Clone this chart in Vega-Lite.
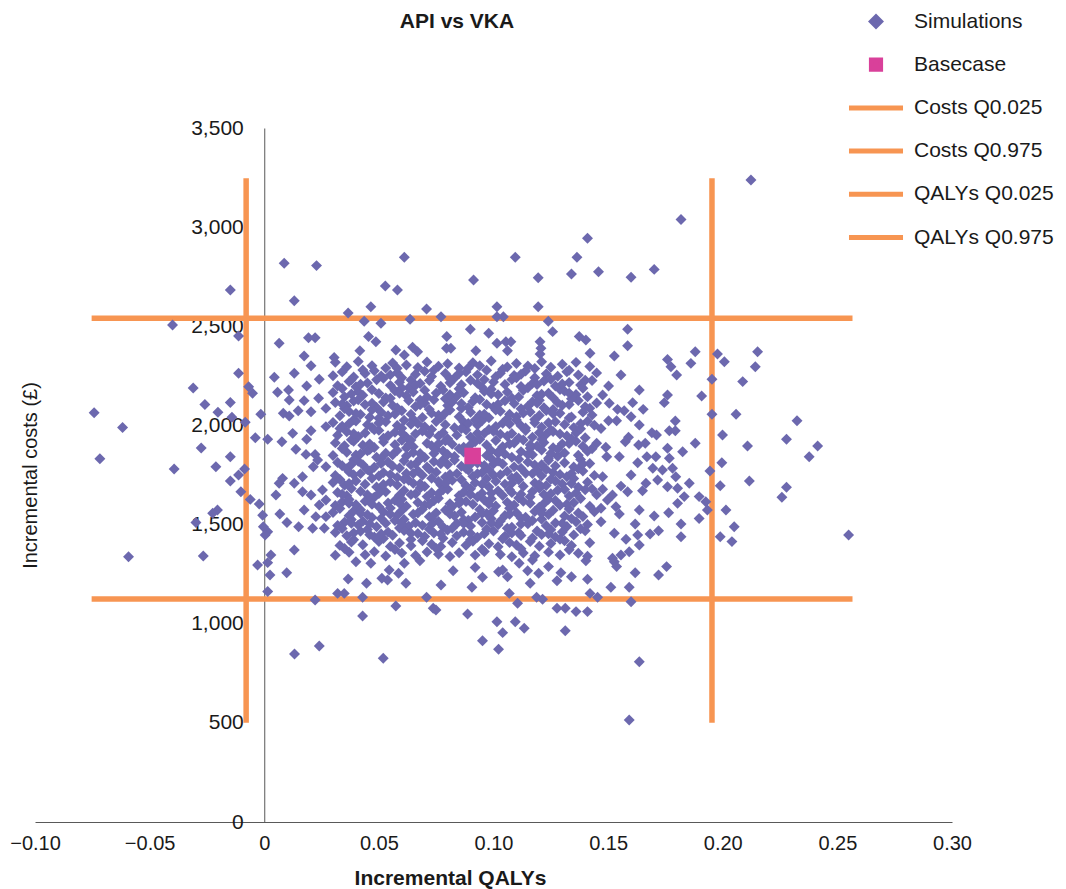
{
"$schema":"https://vega.github.io/schema/vega-lite/v6.json",
"width":917,"height":694,
"autosize":"none",
"padding":{"left":35,"top":128,"right":114,"bottom":67},
"background":"white",
"title":{"text":"API vs VKA","frame":"group","anchor":"middle","dx":-36.5,"offset":-49,"baseline":"alphabetic","fontSize":21,"font":"Liberation Sans","fontWeight":"bold","color":"#1a1a1a"},
"datasets":{
"lines":[
{"series":"Costs Q0.025","x":-0.0753,"y":1125},{"series":"Costs Q0.025","x":0.2566,"y":1125},
{"series":"Costs Q0.975","x":-0.0753,"y":2540},{"series":"Costs Q0.975","x":0.2566,"y":2540},
{"series":"QALYs Q0.025","x":-0.0079,"y":501},{"series":"QALYs Q0.025","x":-0.0079,"y":3246},
{"series":"QALYs Q0.975","x":0.1953,"y":501},{"series":"QALYs Q0.975","x":0.1953,"y":3246}],
"base":[{"x":0.0909,"y":1846}],
"sims":[
{"x":-0.0742,"y":2064},{"x":-0.0618,"y":1990},{"x":-0.0717,"y":1832},{"x":-0.0393,"y":1780},{"x":-0.031,"y":2189},{"x":-0.0259,"y":2106},{"x":-0.0202,"y":2066},{"x":-0.0148,"y":2116},{"x":-0.0112,"y":2263},{"x":-0.0141,"y":2041},{"x":-0.0275,"y":1886},{"x":-0.0148,"y":1842},{"x":-0.0211,"y":1792},{"x":-0.0083,"y":2016},{"x":-0.0068,"y":2195},{"x":-0.0051,"y":2162},{"x":-0.0015,"y":2056},{"x":-0.0039,"y":1938},{"x":0.0015,"y":1930},{"x":-0.0086,"y":1780},{"x":-0.0112,"y":1750},{"x":-0.0148,"y":1720},{"x":-0.0102,"y":1666},{"x":-0.0061,"y":1627},{"x":-0.0022,"y":1604},{"x":-0.0007,"y":1547},{"x":-0.0004,"y":1489},{"x":0.0015,"y":1464},{"x":0.0004,"y":1447},{"x":-0.0204,"y":1573},{"x":-0.0225,"y":1557},{"x":-0.0298,"y":1510},{"x":-0.0592,"y":1338},{"x":-0.0266,"y":1341},{"x":0.0131,"y":1372},{"x":0.0044,"y":2243},{"x":0.0058,"y":2167},{"x":0.0106,"y":2179},{"x":0.0131,"y":2263},{"x":0.0185,"y":2199},{"x":0.0204,"y":2301},{"x":0.024,"y":2233},{"x":0.0109,"y":2128},{"x":0.0174,"y":2125},{"x":0.0237,"y":2137},{"x":0.0083,"y":2061},{"x":0.0109,"y":2048},{"x":0.0148,"y":2074},{"x":0.0204,"y":2069},{"x":0.0269,"y":2086},{"x":0.0124,"y":1960},{"x":0.0185,"y":1930},{"x":0.0204,"y":1973},{"x":0.0077,"y":1918},{"x":0.0269,"y":1994},{"x":0.0138,"y":1880},{"x":0.0182,"y":1854},{"x":0.0222,"y":1854},{"x":0.0233,"y":1826},{"x":0.0214,"y":1792},{"x":0.0269,"y":1792},{"x":0.0167,"y":1741},{"x":0.0131,"y":1708},{"x":0.0065,"y":1708},{"x":0.008,"y":1733},{"x":0.0051,"y":1649},{"x":0.0167,"y":1666},{"x":0.0204,"y":1649},{"x":0.0254,"y":1674},{"x":0.024,"y":1599},{"x":0.0269,"y":1624},{"x":0.0174,"y":1573},{"x":0.0225,"y":1540},{"x":0.0269,"y":1540},{"x":0.0068,"y":1553},{"x":0.0099,"y":1510},{"x":0.015,"y":1489},{"x":0.0211,"y":1481},{"x":0.0262,"y":1481},{"x":0.0029,"y":1347},
{"x":0.0087,"y":2818},{"x":0.0228,"y":2806},{"x":-0.0148,"y":2683},{"x":0.0131,"y":2629},{"x":-0.04,"y":2506},{"x":-0.0112,"y":2451},{"x":0.0065,"y":2414},{"x":0.0193,"y":2442},{"x":0.0222,"y":2442},{"x":0.0174,"y":2350},
{"x":0.0611,"y":2848},{"x":0.0528,"y":2703},{"x":0.0581,"y":2683},{"x":0.0366,"y":2567},{"x":0.0465,"y":2599},{"x":0.0436,"y":2525},{"x":0.0509,"y":2515},{"x":0.0636,"y":2535},{"x":0.0708,"y":2587},{"x":0.0771,"y":2548},{"x":0.0913,"y":2733},{"x":0.1095,"y":2848},{"x":0.1195,"y":2745},{"x":0.1015,"y":2599},{"x":0.1015,"y":2548},{"x":0.1043,"y":2548},{"x":0.1195,"y":2599},{"x":0.1239,"y":2525},{"x":0.1258,"y":2473},{"x":0.134,"y":2764},{"x":0.1364,"y":2848},{"x":0.141,"y":2944},{"x":0.1458,"y":2775},{"x":0.0899,"y":2485},{"x":0.0979,"y":2465},{"x":0.0455,"y":2448},{"x":0.0487,"y":2422},{"x":0.0796,"y":2448},{"x":0.0795,"y":2389},{"x":0.0814,"y":2389},{"x":0.0417,"y":2377},{"x":0.0574,"y":2380},{"x":0.0611,"y":2355},{"x":0.0647,"y":2394},{"x":0.0669,"y":2372},{"x":0.0923,"y":2377},{"x":0.1015,"y":2414},{"x":0.1054,"y":2422},{"x":0.1076,"y":2422},{"x":0.1061,"y":2377},{"x":0.1203,"y":2422},{"x":0.1207,"y":2389},{"x":0.1203,"y":2360},{"x":0.1374,"y":2448},{"x":0.1403,"y":2431},{"x":0.1421,"y":2364},{"x":0.0305,"y":2343},
{"x":0.2123,"y":3238},{"x":0.1818,"y":3039},{"x":0.16,"y":2747},{"x":0.1701,"y":2787},{"x":0.1585,"y":2485},{"x":0.1585,"y":2402},{"x":0.1527,"y":2350},{"x":0.1759,"y":2333},{"x":0.188,"y":2372},{"x":0.1977,"y":2360},{"x":0.2152,"y":2372},
{"x":0.2007,"y":2321},{"x":0.2142,"y":2296},{"x":0.1953,"y":2233},{"x":0.2087,"y":2221},{"x":0.1908,"y":2148},{"x":0.1953,"y":2056},{"x":0.2058,"y":2056},{"x":0.2324,"y":2024},{"x":0.1999,"y":1952},{"x":0.2278,"y":1930},{"x":0.2414,"y":1896},{"x":0.2108,"y":1896},{"x":0.2377,"y":1842},{"x":0.1996,"y":1812},{"x":0.1944,"y":1770},{"x":0.2116,"y":1720},{"x":0.1989,"y":1696},{"x":0.2278,"y":1688},{"x":0.2258,"y":1638},{"x":0.2014,"y":1573},{"x":0.205,"y":1489},{"x":0.1989,"y":1439},{"x":0.204,"y":1414},{"x":0.2549,"y":1447},{"x":0.1861,"y":2313},{"x":0.1774,"y":2296},{"x":0.1799,"y":2254},{"x":0.1556,"y":2254},{"x":0.1502,"y":2199},{"x":0.1476,"y":2153},{"x":0.1636,"y":2179},{"x":0.1759,"y":2153},{"x":0.1745,"y":2115},{"x":0.1607,"y":2115},{"x":0.1505,"y":2112},{"x":0.1541,"y":2081},{"x":0.157,"y":2074},{"x":0.1653,"y":2081},{"x":0.16,"y":2044},{"x":0.1502,"y":2024},{"x":0.1537,"y":2024},{"x":0.1636,"y":2002},{"x":0.1793,"y":2022},{"x":0.1469,"y":1985},{"x":0.1767,"y":1973},{"x":0.1793,"y":1973},{"x":0.1691,"y":1963},{"x":0.1711,"y":1952},{"x":0.1589,"y":1940},{"x":0.1575,"y":1918},{"x":0.188,"y":1910},{"x":0.1633,"y":1901},{"x":0.1662,"y":1910},{"x":0.149,"y":1890},{"x":0.1759,"y":1885},{"x":0.1825,"y":1867},{"x":0.1494,"y":1842},{"x":0.1549,"y":1842},{"x":0.1669,"y":1842},{"x":0.1708,"y":1842},{"x":0.1767,"y":1834},{"x":0.1629,"y":1812},{"x":0.1695,"y":1784},{"x":0.1737,"y":1775},{"x":0.1781,"y":1784},{"x":0.1476,"y":1741},{"x":0.16,"y":1750},{"x":0.1795,"y":1741},{"x":0.1665,"y":1708},{"x":0.1716,"y":1725},{"x":0.1854,"y":1708},{"x":0.1556,"y":1694},{"x":0.1759,"y":1691},{"x":0.1803,"y":1683},{"x":0.1476,"y":1678},{"x":0.165,"y":1671},{"x":0.1519,"y":1649},{"x":0.1585,"y":1666},{"x":0.1832,"y":1641},{"x":0.1897,"y":1641},{"x":0.1497,"y":1624},{"x":0.1534,"y":1590},{"x":0.1803,"y":1607},{"x":0.1926,"y":1615},{"x":0.1469,"y":1582},{"x":0.1636,"y":1573},{"x":0.1933,"y":1573},{"x":0.1549,"y":1553},{"x":0.1701,"y":1543},{"x":0.1764,"y":1560},{"x":0.1897,"y":1531},{"x":0.1469,"y":1514},{"x":0.1618,"y":1503},{"x":0.1818,"y":1503},{"x":0.1527,"y":1456},{"x":0.1578,"y":1426},{"x":0.1629,"y":1447},{"x":0.1683,"y":1452},{"x":0.172,"y":1469},{"x":0.1818,"y":1439},{"x":0.1636,"y":1397},{"x":0.1592,"y":1363},{"x":0.1556,"y":1347},{"x":0.1519,"y":1330},
{"x":-0.0029,"y":1296},{"x":0.0015,"y":1308},{"x":0.0025,"y":1246},{"x":0.0098,"y":1257},{"x":0.0015,"y":1162},{"x":0.0222,"y":1120},{"x":0.024,"y":888},{"x":0.0132,"y":847},
{"x":0.04,"y":1313},{"x":0.0465,"y":1305},{"x":0.0366,"y":1225},{"x":0.0446,"y":1204},{"x":0.032,"y":1153},{"x":0.0349,"y":1153},{"x":0.0429,"y":1133},{"x":0.0429,"y":1039},{"x":0.0513,"y":1229},{"x":0.0545,"y":1271},{"x":0.0538,"y":1220},{"x":0.0586,"y":1254},{"x":0.0611,"y":1305},{"x":0.0618,"y":1204},{"x":0.0574,"y":1089},{"x":0.0519,"y":826},{"x":0.0679,"y":1318},{"x":0.0708,"y":1133},{"x":0.0737,"y":1078},{"x":0.0749,"y":1069},{"x":0.0771,"y":1195},{"x":0.0824,"y":1267},{"x":0.0887,"y":1049},{"x":0.0906,"y":1184},{"x":0.092,"y":1284},{"x":0.0952,"y":1234},{"x":0.0952,"y":914},{"x":0.1015,"y":1010},{"x":0.104,"y":955},{"x":0.1022,"y":871},{"x":0.1022,"y":1262},{"x":0.104,"y":1271},{"x":0.1061,"y":1237},{"x":0.1069,"y":1153},{"x":0.1105,"y":1103},{"x":0.1095,"y":1010},{"x":0.1134,"y":977},{"x":0.1112,"y":1305},{"x":0.1149,"y":1267},{"x":0.117,"y":1321},{"x":0.1197,"y":1254},{"x":0.116,"y":1204},{"x":0.1188,"y":1133},{"x":0.1214,"y":1123},{"x":0.124,"y":1288},{"x":0.1277,"y":1217},{"x":0.1294,"y":1257},{"x":0.1277,"y":1078},{"x":0.1313,"y":1078},{"x":0.1313,"y":965},{"x":0.134,"y":1237},{"x":0.136,"y":1061},{"x":0.1403,"y":1318},{"x":0.141,"y":1224},{"x":0.1421,"y":1153},{"x":0.141,"y":1061},{"x":0.1454,"y":1133},
{"x":0.1527,"y":1313},{"x":0.1537,"y":1288},{"x":0.1618,"y":1257},{"x":0.172,"y":1246},{"x":0.1755,"y":1288},{"x":0.1512,"y":1184},{"x":0.1592,"y":1184},{"x":0.16,"y":1111},{"x":0.1636,"y":808},{"x":0.1592,"y":514},
{"x":0.031,"y":2318},{"x":0.036,"y":2296},{"x":0.041,"y":2322},{"x":0.047,"y":2301},{"x":0.053,"y":2289},{"x":0.056,"y":2315},{"x":0.062,"y":2305},{"x":0.067,"y":2292},{"x":0.071,"y":2320},{"x":0.076,"y":2298},{"x":0.080,"y":2311},{"x":0.085,"y":2290},{"x":0.091,"y":2316},{"x":0.094,"y":2301},{"x":0.099,"y":2325},{"x":0.106,"y":2295},{"x":0.110,"y":2312},{"x":0.115,"y":2300},{"x":0.121,"y":2321},{"x":0.125,"y":2293},{"x":0.130,"y":2309},{"x":0.136,"y":2318},{"x":0.142,"y":2297},
{"x":0.030,"y":2251},{"x":0.034,"y":2270},{"x":0.039,"y":2244},{"x":0.044,"y":2262},{"x":0.048,"y":2276},{"x":0.051,"y":2249},{"x":0.058,"y":2266},{"x":0.060,"y":2240},{"x":0.066,"y":2258},{"x":0.070,"y":2273},{"x":0.073,"y":2247},{"x":0.079,"y":2262},{"x":0.083,"y":2239},{"x":0.088,"y":2270},{"x":0.093,"y":2255},{"x":0.097,"y":2278},{"x":0.101,"y":2246},{"x":0.103,"y":2263},{"x":0.109,"y":2252},{"x":0.114,"y":2275},{"x":0.118,"y":2241},{"x":0.123,"y":2260},{"x":0.128,"y":2248},{"x":0.132,"y":2271},{"x":0.137,"y":2254},{"x":0.145,"y":2265},
{"x":0.032,"y":2200},{"x":0.037,"y":2221},{"x":0.040,"y":2195},{"x":0.045,"y":2214},{"x":0.049,"y":2230},{"x":0.055,"y":2202},{"x":0.059,"y":2218},{"x":0.063,"y":2190},{"x":0.068,"y":2211},{"x":0.072,"y":2226},{"x":0.077,"y":2198},{"x":0.081,"y":2215},{"x":0.086,"y":2205},{"x":0.090,"y":2228},{"x":0.095,"y":2193},{"x":0.100,"y":2219},{"x":0.105,"y":2207},{"x":0.108,"y":2231},{"x":0.112,"y":2196},{"x":0.117,"y":2212},{"x":0.122,"y":2224},{"x":0.127,"y":2199},{"x":0.133,"y":2216},{"x":0.138,"y":2204},{"x":0.143,"y":2227},
{"x":0.030,"y":2166},{"x":0.035,"y":2145},{"x":0.041,"y":2170},{"x":0.043,"y":2152},{"x":0.050,"y":2161},{"x":0.053,"y":2139},{"x":0.057,"y":2175},{"x":0.062,"y":2150},{"x":0.065,"y":2168},{"x":0.071,"y":2144},{"x":0.075,"y":2163},{"x":0.078,"y":2179},{"x":0.084,"y":2147},{"x":0.087,"y":2165},{"x":0.092,"y":2140},{"x":0.096,"y":2172},{"x":0.102,"y":2155},{"x":0.106,"y":2168},{"x":0.111,"y":2143},{"x":0.113,"y":2177},{"x":0.119,"y":2151},{"x":0.124,"y":2162},{"x":0.126,"y":2140},{"x":0.131,"y":2173},{"x":0.136,"y":2156},{"x":0.141,"y":2145},
{"x":0.031,"y":2116},{"x":0.036,"y":2099},{"x":0.039,"y":2123},{"x":0.044,"y":2105},{"x":0.049,"y":2090},{"x":0.052,"y":2118},{"x":0.056,"y":2101},{"x":0.063,"y":2126},{"x":0.066,"y":2095},{"x":0.070,"y":2112},{"x":0.074,"y":2129},{"x":0.080,"y":2100},{"x":0.082,"y":2118},{"x":0.089,"y":2091},{"x":0.091,"y":2121},{"x":0.097,"y":2106},{"x":0.100,"y":2093},{"x":0.105,"y":2124},{"x":0.109,"y":2110},{"x":0.115,"y":2097},{"x":0.117,"y":2120},{"x":0.122,"y":2089},{"x":0.128,"y":2115},{"x":0.130,"y":2102},{"x":0.137,"y":2126},{"x":0.140,"y":2094},{"x":0.145,"y":2113},
{"x":0.033,"y":2049},{"x":0.037,"y":2070},{"x":0.042,"y":2055},{"x":0.046,"y":2041},{"x":0.051,"y":2066},{"x":0.054,"y":2049},{"x":0.060,"y":2074},{"x":0.064,"y":2057},{"x":0.069,"y":2040},{"x":0.073,"y":2062},{"x":0.076,"y":2051},{"x":0.081,"y":2078},{"x":0.085,"y":2044},{"x":0.090,"y":2066},{"x":0.094,"y":2053},{"x":0.098,"y":2039},{"x":0.103,"y":2071},{"x":0.107,"y":2056},{"x":0.110,"y":2044},{"x":0.116,"y":2068},{"x":0.120,"y":2050},{"x":0.123,"y":2075},{"x":0.129,"y":2061},{"x":0.134,"y":2043},{"x":0.139,"y":2067},{"x":0.143,"y":2052},
{"x":0.030,"y":2015},{"x":0.034,"y":1996},{"x":0.040,"y":2022},{"x":0.045,"y":2003},{"x":0.047,"y":1990},{"x":0.053,"y":2018},{"x":0.058,"y":2000},{"x":0.061,"y":2026},{"x":0.067,"y":2009},{"x":0.070,"y":1993},{"x":0.075,"y":2020},{"x":0.079,"y":2004},{"x":0.083,"y":1988},{"x":0.087,"y":2017},{"x":0.093,"y":2002},{"x":0.095,"y":2024},{"x":0.101,"y":1995},{"x":0.104,"y":2011},{"x":0.110,"y":2027},{"x":0.112,"y":1999},{"x":0.118,"y":2013},{"x":0.121,"y":1991},{"x":0.127,"y":2019},{"x":0.131,"y":2005},{"x":0.135,"y":1989},{"x":0.141,"y":2021},{"x":0.144,"y":2001},
{"x":0.032,"y":1950},{"x":0.036,"y":1968},{"x":0.041,"y":1944},{"x":0.044,"y":1962},{"x":0.050,"y":1975},{"x":0.054,"y":1948},{"x":0.057,"y":1965},{"x":0.062,"y":1940},{"x":0.066,"y":1958},{"x":0.069,"y":1972},{"x":0.076,"y":1946},{"x":0.078,"y":1963},{"x":0.084,"y":1951},{"x":0.088,"y":1977},{"x":0.090,"y":1942},{"x":0.096,"y":1960},{"x":0.100,"y":1971},{"x":0.106,"y":1945},{"x":0.108,"y":1959},{"x":0.114,"y":1974},{"x":0.117,"y":1941},{"x":0.123,"y":1956},{"x":0.126,"y":1969},{"x":0.132,"y":1947},{"x":0.136,"y":1962},{"x":0.140,"y":1938},
{"x":0.031,"y":1912},{"x":0.035,"y":1897},{"x":0.039,"y":1920},{"x":0.043,"y":1900},{"x":0.048,"y":1889},{"x":0.052,"y":1917},{"x":0.057,"y":1903},{"x":0.060,"y":1925},{"x":0.065,"y":1892},{"x":0.071,"y":1910},{"x":0.073,"y":1898},{"x":0.079,"y":1922},{"x":0.082,"y":1905},{"x":0.087,"y":1890},{"x":0.092,"y":1918},{"x":0.097,"y":1901},{"x":0.101,"y":1924},{"x":0.104,"y":1893},{"x":0.109,"y":1911},{"x":0.113,"y":1927},{"x":0.119,"y":1896},{"x":0.122,"y":1914},{"x":0.126,"y":1888},{"x":0.130,"y":1907},{"x":0.136,"y":1920},{"x":0.139,"y":1895},{"x":0.145,"y":1910},
{"x":0.030,"y":1848},{"x":0.036,"y":1865},{"x":0.040,"y":1851},{"x":0.045,"y":1872},{"x":0.049,"y":1840},{"x":0.053,"y":1860},{"x":0.058,"y":1874},{"x":0.062,"y":1846},{"x":0.065,"y":1863},{"x":0.070,"y":1838},{"x":0.074,"y":1858},{"x":0.078,"y":1871},{"x":0.083,"y":1843},{"x":0.087,"y":1866},{"x":0.097,"y":1848},{"x":0.099,"y":1873},{"x":0.105,"y":1855},{"x":0.108,"y":1840},{"x":0.112,"y":1868},{"x":0.117,"y":1852},{"x":0.121,"y":1876},{"x":0.128,"y":1845},{"x":0.131,"y":1861},{"x":0.137,"y":1850},{"x":0.141,"y":1870},
{"x":0.032,"y":1813},{"x":0.034,"y":1797},{"x":0.041,"y":1819},{"x":0.043,"y":1802},{"x":0.048,"y":1789},{"x":0.054,"y":1816},{"x":0.056,"y":1795},{"x":0.061,"y":1822},{"x":0.066,"y":1806},{"x":0.071,"y":1790},{"x":0.074,"y":1818},{"x":0.080,"y":1803},{"x":0.083,"y":1826},{"x":0.086,"y":1794},{"x":0.093,"y":1811},{"x":0.096,"y":1798},{"x":0.102,"y":1820},{"x":0.104,"y":1805},{"x":0.109,"y":1791},{"x":0.115,"y":1815},{"x":0.118,"y":1800},{"x":0.124,"y":1824},{"x":0.127,"y":1796},{"x":0.131,"y":1812},{"x":0.135,"y":1790},{"x":0.142,"y":1808},
{"x":0.031,"y":1747},{"x":0.037,"y":1766},{"x":0.039,"y":1751},{"x":0.046,"y":1770},{"x":0.050,"y":1745},{"x":0.052,"y":1762},{"x":0.058,"y":1738},{"x":0.062,"y":1758},{"x":0.067,"y":1772},{"x":0.069,"y":1749},{"x":0.075,"y":1764},{"x":0.079,"y":1740},{"x":0.084,"y":1757},{"x":0.089,"y":1775},{"x":0.091,"y":1744},{"x":0.095,"y":1761},{"x":0.100,"y":1750},{"x":0.106,"y":1768},{"x":0.110,"y":1742},{"x":0.114,"y":1759},{"x":0.119,"y":1773},{"x":0.121,"y":1746},{"x":0.126,"y":1763},{"x":0.132,"y":1741},{"x":0.134,"y":1757},{"x":0.139,"y":1770},{"x":0.144,"y":1748},
{"x":0.030,"y":1712},{"x":0.035,"y":1698},{"x":0.040,"y":1720},{"x":0.044,"y":1703},{"x":0.049,"y":1690},{"x":0.055,"y":1715},{"x":0.058,"y":1699},{"x":0.063,"y":1724},{"x":0.065,"y":1708},{"x":0.070,"y":1692},{"x":0.076,"y":1717},{"x":0.077,"y":1701},{"x":0.082,"y":1723},{"x":0.088,"y":1696},{"x":0.092,"y":1711},{"x":0.098,"y":1689},{"x":0.101,"y":1718},{"x":0.105,"y":1704},{"x":0.111,"y":1726},{"x":0.113,"y":1693},{"x":0.118,"y":1710},{"x":0.123,"y":1697},{"x":0.127,"y":1720},{"x":0.130,"y":1705},{"x":0.137,"y":1688},{"x":0.141,"y":1714},
{"x":0.032,"y":1662},{"x":0.036,"y":1645},{"x":0.042,"y":1668},{"x":0.045,"y":1650},{"x":0.048,"y":1638},{"x":0.053,"y":1665},{"x":0.059,"y":1648},{"x":0.061,"y":1672},{"x":0.066,"y":1655},{"x":0.071,"y":1641},{"x":0.073,"y":1660},{"x":0.078,"y":1676},{"x":0.085,"y":1646},{"x":0.087,"y":1663},{"x":0.093,"y":1639},{"x":0.095,"y":1658},{"x":0.102,"y":1670},{"x":0.104,"y":1647},{"x":0.108,"y":1661},{"x":0.116,"y":1640},{"x":0.117,"y":1667},{"x":0.122,"y":1652},{"x":0.128,"y":1673},{"x":0.133,"y":1644},{"x":0.136,"y":1659},{"x":0.140,"y":1675},{"x":0.145,"y":1650},
{"x":0.031,"y":1596},{"x":0.034,"y":1614},{"x":0.040,"y":1600},{"x":0.044,"y":1618},{"x":0.050,"y":1590},{"x":0.054,"y":1609},{"x":0.057,"y":1622},{"x":0.062,"y":1593},{"x":0.067,"y":1611},{"x":0.070,"y":1598},{"x":0.074,"y":1620},{"x":0.081,"y":1605},{"x":0.082,"y":1591},{"x":0.088,"y":1616},{"x":0.091,"y":1602},{"x":0.096,"y":1624},{"x":0.101,"y":1594},{"x":0.106,"y":1612},{"x":0.109,"y":1599},{"x":0.113,"y":1617},{"x":0.120,"y":1588},{"x":0.122,"y":1606},{"x":0.127,"y":1621},{"x":0.129,"y":1597},{"x":0.135,"y":1610},{"x":0.142,"y":1592},
{"x":0.030,"y":1561},{"x":0.037,"y":1545},{"x":0.039,"y":1568},{"x":0.045,"y":1550},{"x":0.047,"y":1536},{"x":0.052,"y":1563},{"x":0.058,"y":1547},{"x":0.060,"y":1571},{"x":0.065,"y":1552},{"x":0.072,"y":1540},{"x":0.075,"y":1559},{"x":0.079,"y":1573},{"x":0.083,"y":1544},{"x":0.086,"y":1562},{"x":0.092,"y":1538},{"x":0.097,"y":1556},{"x":0.100,"y":1570},{"x":0.105,"y":1546},{"x":0.110,"y":1560},{"x":0.114,"y":1537},{"x":0.118,"y":1566},{"x":0.124,"y":1551},{"x":0.126,"y":1572},{"x":0.131,"y":1543},{"x":0.137,"y":1558},{"x":0.139,"y":1541},{"x":0.144,"y":1565},
{"x":0.032,"y":1495},{"x":0.035,"y":1512},{"x":0.041,"y":1498},{"x":0.043,"y":1517},{"x":0.049,"y":1489},{"x":0.053,"y":1507},{"x":0.057,"y":1520},{"x":0.063,"y":1492},{"x":0.066,"y":1509},{"x":0.069,"y":1496},{"x":0.076,"y":1515},{"x":0.078,"y":1488},{"x":0.084,"y":1505},{"x":0.089,"y":1522},{"x":0.090,"y":1493},{"x":0.095,"y":1510},{"x":0.102,"y":1499},{"x":0.103,"y":1518},{"x":0.108,"y":1487},{"x":0.115,"y":1504},{"x":0.117,"y":1521},{"x":0.123,"y":1494},{"x":0.127,"y":1508},{"x":0.132,"y":1490},{"x":0.136,"y":1514},{"x":0.141,"y":1500},
{"x":0.031,"y":1460},{"x":0.036,"y":1444},{"x":0.042,"y":1466},{"x":0.046,"y":1449},{"x":0.048,"y":1437},{"x":0.054,"y":1462},{"x":0.056,"y":1446},{"x":0.061,"y":1470},{"x":0.067,"y":1455},{"x":0.070,"y":1440},{"x":0.074,"y":1458},{"x":0.080,"y":1472},{"x":0.084,"y":1443},{"x":0.087,"y":1461},{"x":0.093,"y":1436},{"x":0.096,"y":1454},{"x":0.100,"y":1467},{"x":0.105,"y":1441},{"x":0.111,"y":1459},{"x":0.112,"y":1445},{"x":0.119,"y":1468},{"x":0.121,"y":1450},{"x":0.127,"y":1437},{"x":0.130,"y":1463},{"x":0.135,"y":1448},{"x":0.140,"y":1469},
{"x":0.033,"y":1395},{"x":0.038,"y":1412},{"x":0.043,"y":1398},{"x":0.050,"y":1415},{"x":0.055,"y":1390},{"x":0.059,"y":1407},{"x":0.064,"y":1393},{"x":0.069,"y":1418},{"x":0.073,"y":1401},{"x":0.077,"y":1389},{"x":0.082,"y":1410},{"x":0.088,"y":1396},{"x":0.091,"y":1416},{"x":0.098,"y":1403},{"x":0.102,"y":1388},{"x":0.107,"y":1409},{"x":0.110,"y":1397},{"x":0.116,"y":1414},{"x":0.120,"y":1391},{"x":0.125,"y":1405},{"x":0.131,"y":1418},{"x":0.134,"y":1394},{"x":0.142,"y":1408},
{"x":0.031,"y":1345},{"x":0.037,"y":1360},{"x":0.044,"y":1348},{"x":0.048,"y":1363},{"x":0.053,"y":1341},{"x":0.060,"y":1356},{"x":0.066,"y":1344},{"x":0.071,"y":1362},{"x":0.076,"y":1350},{"x":0.081,"y":1339},{"x":0.085,"y":1358},{"x":0.092,"y":1346},{"x":0.096,"y":1364},{"x":0.103,"y":1349},{"x":0.108,"y":1338},{"x":0.113,"y":1357},{"x":0.118,"y":1343},{"x":0.124,"y":1361},{"x":0.129,"y":1347},{"x":0.137,"y":1355},{"x":0.141,"y":1340},
{"x":0.043,"y":2280},{"x":0.058,"y":2288},{"x":0.074,"y":2279},{"x":0.089,"y":2290},{"x":0.104,"y":2283},{"x":0.118,"y":2287},{"x":0.133,"y":2278},
{"x":0.038,"y":2230},{"x":0.052,"y":2238},{"x":0.064,"y":2229},{"x":0.081,"y":2236},{"x":0.096,"y":2231},{"x":0.110,"y":2240},{"x":0.125,"y":2233},{"x":0.140,"y":2228},
{"x":0.034,"y":2186},{"x":0.047,"y":2180},{"x":0.060,"y":2189},{"x":0.070,"y":2178},{"x":0.085,"y":2185},{"x":0.099,"y":2182},{"x":0.115,"y":2190},{"x":0.129,"y":2181},{"x":0.139,"y":2187},
{"x":0.041,"y":2130},{"x":0.055,"y":2137},{"x":0.068,"y":2128},{"x":0.079,"y":2135},{"x":0.094,"y":2131},{"x":0.108,"y":2138},{"x":0.120,"y":2127},{"x":0.134,"y":2134},
{"x":0.035,"y":2085},{"x":0.047,"y":2079},{"x":0.058,"y":2088},{"x":0.072,"y":2081},{"x":0.086,"y":2086},{"x":0.101,"y":2078},{"x":0.112,"y":2084},{"x":0.126,"y":2080},{"x":0.142,"y":2087},
{"x":0.039,"y":2029},{"x":0.050,"y":2036},{"x":0.065,"y":2031},{"x":0.077,"y":2038},{"x":0.092,"y":2027},{"x":0.106,"y":2034},{"x":0.118,"y":2030},{"x":0.133,"y":2037},
{"x":0.033,"y":1985},{"x":0.048,"y":1978},{"x":0.060,"y":1986},{"x":0.073,"y":1980},{"x":0.086,"y":1984},{"x":0.098,"y":1979},{"x":0.114,"y":1987},{"x":0.125,"y":1977},{"x":0.138,"y":1983},
{"x":0.038,"y":1928},{"x":0.052,"y":1935},{"x":0.064,"y":1926},{"x":0.080,"y":1933},{"x":0.094,"y":1930},{"x":0.111,"y":1936},{"x":0.121,"y":1929},{"x":0.134,"y":1932},
{"x":0.034,"y":1884},{"x":0.046,"y":1878},{"x":0.062,"y":1886},{"x":0.075,"y":1879},{"x":0.085,"y":1883},{"x":0.103,"y":1877},{"x":0.116,"y":1885},{"x":0.128,"y":1880},{"x":0.143,"y":1882},
{"x":0.039,"y":1827},{"x":0.051,"y":1834},{"x":0.068,"y":1831},{"x":0.078,"y":1826},{"x":0.099,"y":1833},{"x":0.111,"y":1829},{"x":0.124,"y":1835},{"x":0.138,"y":1828},
{"x":0.036,"y":1782},{"x":0.045,"y":1777},{"x":0.059,"y":1785},{"x":0.072,"y":1779},{"x":0.088,"y":1783},{"x":0.098,"y":1776},{"x":0.112,"y":1784},{"x":0.123,"y":1778},{"x":0.137,"y":1781},
{"x":0.033,"y":1727},{"x":0.047,"y":1733},{"x":0.061,"y":1729},{"x":0.073,"y":1734},{"x":0.086,"y":1726},{"x":0.097,"y":1731},{"x":0.108,"y":1735},{"x":0.125,"y":1728},{"x":0.135,"y":1732},
{"x":0.038,"y":1682},{"x":0.051,"y":1676},{"x":0.068,"y":1684},{"x":0.080,"y":1678},{"x":0.090,"y":1681},{"x":0.107,"y":1675},{"x":0.120,"y":1683},{"x":0.131,"y":1677},{"x":0.143,"y":1680},
{"x":0.037,"y":1626},{"x":0.047,"y":1632},{"x":0.060,"y":1628},{"x":0.076,"y":1633},{"x":0.085,"y":1625},{"x":0.099,"y":1630},{"x":0.111,"y":1634},{"x":0.124,"y":1627},{"x":0.138,"y":1631},
{"x":0.033,"y":1581},{"x":0.042,"y":1575},{"x":0.055,"y":1583},{"x":0.069,"y":1577},{"x":0.081,"y":1580},{"x":0.094,"y":1576},{"x":0.107,"y":1582},{"x":0.121,"y":1574},{"x":0.133,"y":1579},
{"x":0.038,"y":1525},{"x":0.051,"y":1531},{"x":0.061,"y":1526},{"x":0.073,"y":1532},{"x":0.087,"y":1524},{"x":0.099,"y":1529},{"x":0.112,"y":1533},{"x":0.121,"y":1527},{"x":0.134,"y":1530},
{"x":0.034,"y":1480},{"x":0.045,"y":1475},{"x":0.059,"y":1483},{"x":0.072,"y":1477},{"x":0.082,"y":1481},{"x":0.097,"y":1476},{"x":0.106,"y":1482},{"x":0.125,"y":1474},{"x":0.138,"y":1479},
{"x":0.039,"y":1424},{"x":0.052,"y":1430},{"x":0.064,"y":1425},{"x":0.078,"y":1431},{"x":0.090,"y":1423},{"x":0.104,"y":1428},{"x":0.117,"y":1432},{"x":0.129,"y":1426},
{"x":0.035,"y":1379},{"x":0.057,"y":1374},{"x":0.075,"y":1380},{"x":0.095,"y":1376},{"x":0.112,"y":1378},{"x":0.133,"y":1373},
{"x":0.055,"y":2255},{"x":0.085,"y":2262},{"x":0.112,"y":2258},
{"x":0.042,"y":2208},{"x":0.066,"y":2203},{"x":0.093,"y":2212},{"x":0.119,"y":2206},{"x":0.130,"y":2209},
{"x":0.038,"y":2158},{"x":0.059,"y":2162},{"x":0.081,"y":2155},{"x":0.099,"y":2160},{"x":0.121,"y":2157},{"x":0.133,"y":2163},
{"x":0.034,"y":2108},{"x":0.047,"y":2112},{"x":0.068,"y":2104},{"x":0.086,"y":2110},{"x":0.102,"y":2107},{"x":0.119,"y":2113},{"x":0.133,"y":2105},
{"x":0.040,"y":2060},{"x":0.057,"y":2058},{"x":0.079,"y":2063},{"x":0.096,"y":2057},{"x":0.113,"y":2062},{"x":0.126,"y":2059},
{"x":0.037,"y":2008},{"x":0.050,"y":2012},{"x":0.064,"y":2006},{"x":0.089,"y":2010},{"x":0.107,"y":2007},{"x":0.124,"y":2013},{"x":0.138,"y":2009},
{"x":0.039,"y":1958},{"x":0.060,"y":1962},{"x":0.072,"y":1955},{"x":0.093,"y":1961},{"x":0.103,"y":1956},{"x":0.120,"y":1963},{"x":0.129,"y":1957},
{"x":0.046,"y":1907},{"x":0.063,"y":1902},{"x":0.076,"y":1908},{"x":0.090,"y":1903},{"x":0.107,"y":1906},{"x":0.116,"y":1901},{"x":0.133,"y":1909},
{"x":0.042,"y":1857},{"x":0.056,"y":1852},{"x":0.068,"y":1858},{"x":0.080,"y":1853},{"x":0.102,"y":1859},{"x":0.115,"y":1854},{"x":0.125,"y":1858},
{"x":0.038,"y":1803},{"x":0.051,"y":1808},{"x":0.064,"y":1801},{"x":0.077,"y":1807},{"x":0.090,"y":1804},{"x":0.100,"y":1806},{"x":0.121,"y":1802},{"x":0.139,"y":1806},
{"x":0.042,"y":1757},{"x":0.055,"y":1752},{"x":0.065,"y":1758},{"x":0.081,"y":1753},{"x":0.093,"y":1756},{"x":0.103,"y":1751},{"x":0.117,"y":1757},{"x":0.129,"y":1753},
{"x":0.037,"y":1707},{"x":0.052,"y":1702},{"x":0.068,"y":1706},{"x":0.079,"y":1709},{"x":0.095,"y":1703},{"x":0.108,"y":1708},{"x":0.120,"y":1702},{"x":0.134,"y":1707},
{"x":0.034,"y":1653},{"x":0.050,"y":1657},{"x":0.064,"y":1651},{"x":0.076,"y":1656},{"x":0.090,"y":1652},{"x":0.099,"y":1658},{"x":0.112,"y":1653},{"x":0.125,"y":1656},
{"x":0.037,"y":1607},{"x":0.047,"y":1603},{"x":0.059,"y":1608},{"x":0.072,"y":1602},{"x":0.085,"y":1606},{"x":0.098,"y":1604},{"x":0.116,"y":1608},{"x":0.132,"y":1603},
{"x":0.042,"y":1557},{"x":0.055,"y":1552},{"x":0.067,"y":1558},{"x":0.081,"y":1553},{"x":0.095,"y":1556},{"x":0.107,"y":1552},{"x":0.121,"y":1557},
{"x":0.038,"y":1507},{"x":0.046,"y":1503},{"x":0.060,"y":1506},{"x":0.073,"y":1502},{"x":0.087,"y":1505},{"x":0.099,"y":1508},{"x":0.112,"y":1503},{"x":0.130,"y":1506},
{"x":0.039,"y":1457},{"x":0.051,"y":1453},{"x":0.064,"y":1456},{"x":0.077,"y":1452},{"x":0.090,"y":1455},{"x":0.108,"y":1458},{"x":0.124,"y":1453}
]},
"encoding":{
"x":{"field":"x","type":"quantitative","scale":{"domain":[-0.1,0.3],"nice":false,"zero":false},
 "axis":{"title":"Incremental QALYs","values":[-0.1,-0.05,0,0.05,0.1,0.15,0.2,0.25,0.3],"labelExpr":"datum.value == 0 ? '0' : format(datum.value, '.2f')","grid":false,"ticks":false,"tickSize":0,"domainColor":"#595959","domainWidth":1,"labelFont":"Liberation Sans","labelFontSize":20,"labelColor":"#1a1a1a","labelPadding":11,"labelFlush":false,"labelOverlap":false,"titleFont":"Liberation Sans","titleFontSize":21,"titleFontWeight":"bold","titleColor":"#1a1a1a","titleX":415,"titleY":62,"titleAlign":"center","titleBaseline":"alphabetic"}},
"y":{"field":"y","type":"quantitative","scale":{"domain":[0,3500],"nice":false,"zero":false},
 "axis":{"title":"Incremental costs (£)","offset":-229.25,"values":[0,500,1000,1500,2000,2500,3000,3500],"labelExpr":"format(datum.value, ',.0f')","grid":false,"ticks":false,"tickSize":0,"domainColor":"#595959","domainWidth":1,"labelFont":"Liberation Sans","labelFontSize":21,"labelColor":"#1a1a1a","labelPadding":21,"labelFlush":false,"labelOverlap":false,"titleFont":"Liberation Sans","titleFontSize":20,"titleFontWeight":"normal","titleColor":"#1a1a1a","titleAngle":270,"titleX":-228,"titleY":347,"titleAlign":"center","titleBaseline":"alphabetic"}}
},
"layer":[
{"data":{"name":"lines"},"mark":{"type":"line","strokeWidth":5.5,"strokeCap":"butt"},
 "encoding":{"color":{"field":"series","type":"nominal",
  "scale":{"domain":["Simulations","Basecase","Costs Q0.025","Costs Q0.975","QALYs Q0.025","QALYs Q0.975"],"range":["#6C68AE","#D9409A","#F79552","#F79552","#F79552","#F79552"]},
  "legend":{"orient":"none","legendX":819,"legendY":-128.5,"title":null,"padding":0,"labelFont":"Liberation Sans","labelFontSize":21,"labelColor":"#1a1a1a","labelOffset":16,"labelLimit":0,"gridAlign":"all","rowPadding":6.2,"symbolSize":1521,"symbolStrokeWidth":5,
   "encode":{"symbols":{"update":{
     "shape":{"signal":"datum.value === 'Simulations' ? 'M-0.228,0L0,-0.228L0.228,0L0,0.228Z' : datum.value === 'Basecase' ? 'M-0.235,-0.235H0.235V0.235H-0.235Z' : 'M-1.385,0H1.385'"},
     "fill":{"signal":"datum.value === 'Simulations' ? '#6C68AE' : datum.value === 'Basecase' ? '#D9409A' : 'transparent'"},
     "stroke":{"signal":"(datum.value === 'Simulations' || datum.value === 'Basecase') ? 'transparent' : '#F79552'"},
     "strokeWidth":{"value":5},"size":{"value":1521},"opacity":{"value":1}}}}}}}},
{"data":{"name":"sims"},"mark":{"type":"point","shape":"diamond","filled":true,"size":120,"opacity":1},
 "encoding":{"color":{"datum":"Simulations","type":"nominal"}}},
{"data":{"name":"base"},"mark":{"type":"point","shape":"square","filled":true,"size":275,"opacity":1},
 "encoding":{"color":{"datum":"Basecase","type":"nominal"}}}
],
"config":{"view":{"stroke":null},"font":"Liberation Sans"}
}
